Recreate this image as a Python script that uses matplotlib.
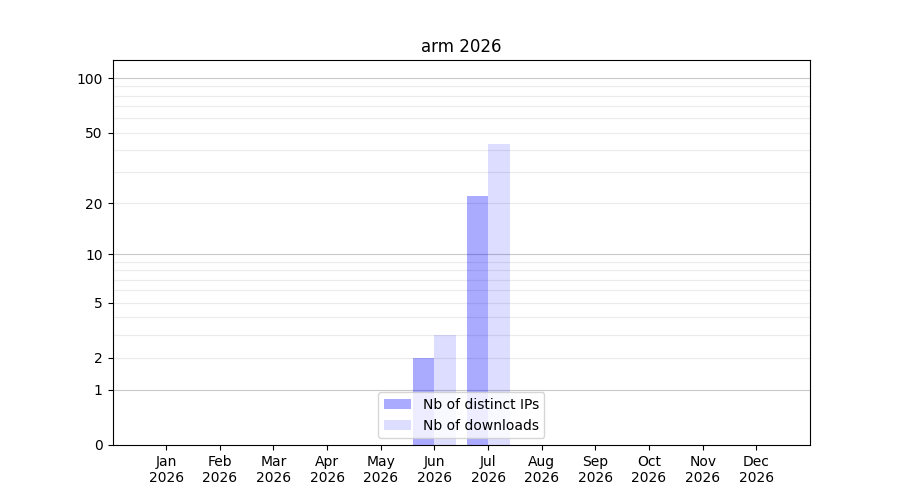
#!/usr/bin/env python3
"""Monthly IPs / downloads bar chart on a log(1+x) scale."""

import matplotlib
matplotlib.use('Agg')
from matplotlib import pyplot as plt
import numpy as np

months = ['Jan', 'Feb', 'Mar', 'Apr', 'May', 'Jun',
          'Jul', 'Aug', 'Sep', 'Oct', 'Nov', 'Dec']
year = '2026'
distinct_ips = [0, 0, 0, 0, 0, 2, 22, 0, 0, 0, 0, 0]
downloads = [0, 0, 0, 0, 0, 3, 43, 0, 0, 0, 0, 0]
y_ticks = [0, 1, 2, 5, 10, 20, 50, 100]
major_grid = [1, 10, 100]
minor_grid = [2, 3, 4, 5, 6, 7, 8, 9, 20, 30, 40, 50, 60, 70, 80, 90]


def main():
    fig, ax = plt.subplots(figsize=(9, 5), dpi=100)
    x = np.arange(len(months))
    width = 0.4

    ax.set_yscale('function', functions=(lambda v: np.log10(1 + np.maximum(v, 0)),
                                         lambda v: 10 ** v - 1))

    # grid first, translucent bars on top
    for v in minor_grid:
        ax.axhline(v, color='#ebebeb', lw=0.8, zorder=0.5)
    for v in major_grid:
        ax.axhline(v, color='#c8c8c8', lw=0.8, zorder=0.5)

    ax.bar(x - width / 2, distinct_ips, width, color='blue', alpha=0.333,
           label='Nb of distinct IPs', zorder=1)
    ax.bar(x + width / 2, downloads, width, color='blue', alpha=0.133,
           label='Nb of downloads', zorder=1)

    ax.set_ylim(0, 126)
    ax.set_xlim(-1, 12)
    ax.set_yticks(y_ticks)
    ax.set_yticklabels([str(t) for t in y_ticks])
    ax.yaxis.set_minor_locator(matplotlib.ticker.NullLocator())
    ax.set_xticks(x)
    ax.set_xticklabels(['{}\n{}'.format(m, year) for m in months])
    ax.set_title('arm ' + year)
    ax.legend(loc='lower center')

    fig.savefig('out.png')


if __name__ == '__main__':
    main()
